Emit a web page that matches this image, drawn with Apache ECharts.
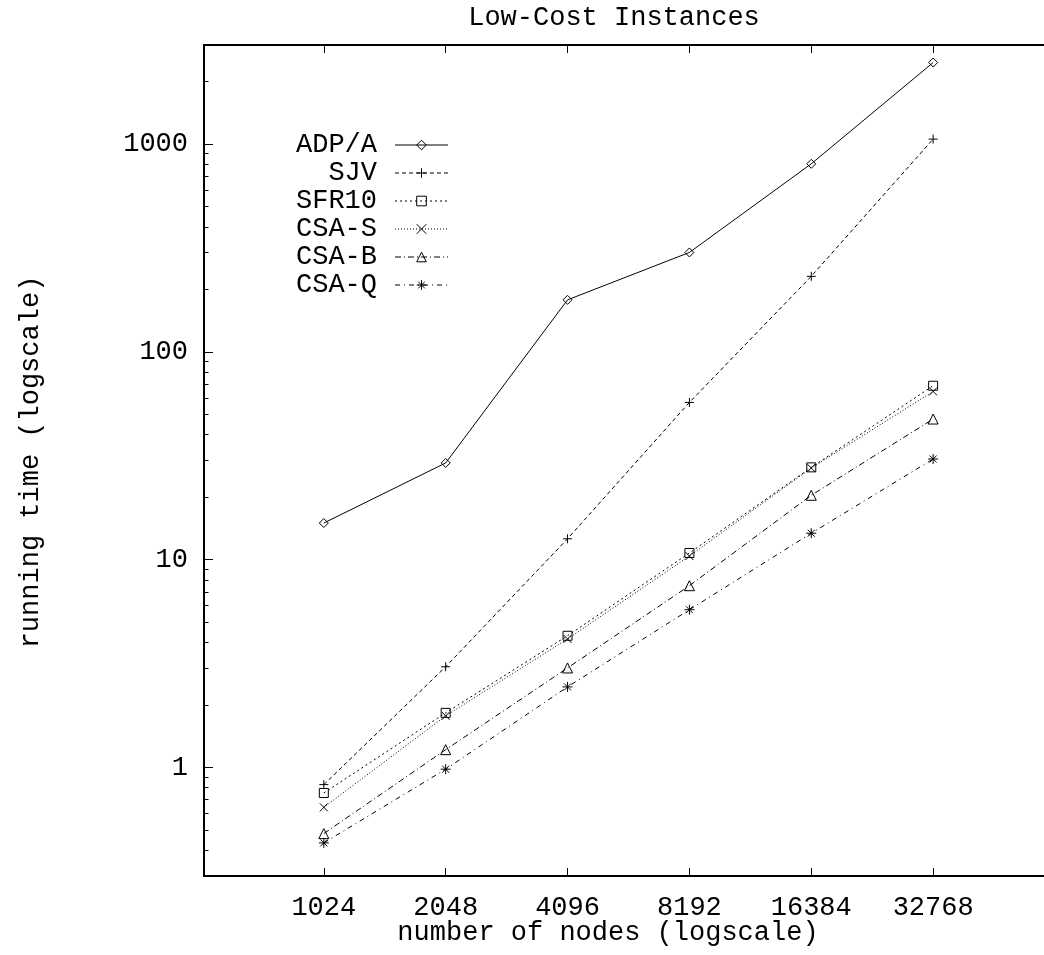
<!DOCTYPE html>
<html>
<head>
<meta charset="utf-8">
<script src="https://cdn.jsdelivr.net/npm/echarts@6/dist/echarts.min.js"></script>
<style>
  html, body { margin: 0; padding: 0; background: #fff; }
  #chart { width: 1044px; height: 955px; }
</style>
</head>
<body>
<div id="chart"></div>
<script>
// Problem size (number of nodes) and running times per algorithm
const nodes = [1024, 2048, 4096, 8192, 16384, 32768];
const adpA  = [15.0, 29.2, 178, 301, 804, 2470];
const sjv   = [0.826, 3.05, 12.6, 57.1, 231, 1057];
const sfr10 = [0.753, 1.83, 4.30, 10.76, 27.8, 68.7];
const csaS  = [0.642, 1.77, 4.15, 10.4, 27.6, 64.5];
const csaB  = [0.48, 1.217, 3.01, 7.49, 20.4, 47.5];
const csaQ  = [0.433, 0.98, 2.44, 5.74, 13.4, 30.5];

const seriesNames = ['ADP/A', 'SJV', 'SFR10', 'CSA-S', 'CSA-B', 'CSA-Q'];

// Tick values
const xTicks = [1024, 2048, 4096, 8192, 16384, 32768];
const yMajorTicks = [1, 10, 100, 1000];
const yMinorTicks = [0.4, 0.5, 0.6, 0.7, 0.8, 0.9,
  2, 3, 4, 5, 6, 7, 8, 9,
  20, 30, 40, 50, 60, 70, 80, 90,
  200, 300, 400, 500, 600, 700, 800, 900,
  2000];

const FONT = '"Liberation Mono", "DejaVu Sans Mono", monospace';
const FS = 27;

const symbols = {
  diamond: 'diamond',
  plus: 'path://M5,0 L5,10 M0,5 L10,5',
  square: 'rect',
  cross: 'path://M0,0 L10,10 M10,0 L0,10',
  triangle: 'triangle',
  star: 'path://M5,0 L5,10 M0,5 L10,5 M1.5,1.5 L8.5,8.5 M8.5,1.5 L1.5,8.5'
};

function makeSeries(name, values, symbol, size, dash) {
  return {
    name: name,
    type: 'line',
    data: nodes.map((n, i) => [n, values[i]]),
    symbol: symbol,
    symbolSize: size,
    showSymbol: true,
    animation: false,
    lineStyle: { color: '#000', width: 1, type: dash },
    itemStyle: { color: 'none', borderColor: '#000', borderWidth: 1 },
    emphasis: { disabled: true }
  };
}

const chart = echarts.init(document.getElementById('chart'), null, { renderer: 'canvas' });

const axisText = { fontFamily: FONT, fontSize: FS, color: '#000' };
const tickLine = { color: '#000', width: 1 };
const borderLine = { color: '#000', width: 2 };
const X_MIN = 518;
const X_MAX = 65536;

chart.setOption({
  backgroundColor: '#fff',
  animation: false,
  // the plot frame runs past the right edge of the canvas
  grid: { left: 204, top: 45, width: 851, height: 831, containLabel: false, outerBoundsMode: 'none' },
  xAxis: [
    {
      type: 'log', logBase: 2, min: X_MIN, max: X_MAX, position: 'bottom',
      axisLine: { show: true, onZero: false, lineStyle: borderLine },
      axisTick: { show: true, inside: true, length: 8, customValues: xTicks, lineStyle: tickLine },
      axisLabel: Object.assign({ margin: 18, customValues: xTicks, formatter: v => String(Math.round(v)) }, axisText),
      splitLine: { show: false }, minorTick: { show: false }
    },
    {
      type: 'log', logBase: 2, min: X_MIN, max: X_MAX, position: 'top', gridIndex: 0,
      axisLine: { show: true, onZero: false, lineStyle: borderLine },
      axisTick: { show: true, inside: true, length: 8, customValues: xTicks, lineStyle: tickLine },
      axisLabel: { show: false },
      splitLine: { show: false }
    }
  ],
  yAxis: [
    {
      type: 'log', logBase: 10, min: 0.3, max: 3000, position: 'left',
      axisLine: { show: true, onZero: false, lineStyle: borderLine },
      axisTick: { show: true, inside: true, length: 9, customValues: yMajorTicks, lineStyle: tickLine },
      axisLabel: Object.assign({ margin: 16, customValues: yMajorTicks, formatter: v => String(Math.round(v)) }, axisText),
      splitLine: { show: false }
    },
    {
      type: 'log', logBase: 10, min: 0.3, max: 3000, position: 'left', gridIndex: 0,
      axisLine: { show: false, onZero: false },
      axisTick: { show: true, inside: true, length: 4.5, customValues: yMinorTicks, lineStyle: tickLine },
      axisLabel: { show: false },
      splitLine: { show: false }
    }
  ],
  legend: {
    data: seriesNames,
    orient: 'vertical',
    align: 'right',
    left: 296,
    top: 131,
    padding: 0,
    itemGap: 0,
    itemWidth: 53,
    itemHeight: 12,
    selectedMode: false,
    lineStyle: { width: 1 },
    itemStyle: { color: 'none', borderColor: '#000', borderWidth: 1 },
    textStyle: { fontFamily: FONT, fontSize: FS, color: '#000', lineHeight: 28, padding: [0, 13, 0, 0] }
  },
  graphic: [
    {
      type: 'text', x: 614, y: 18,
      style: { text: 'Low-Cost Instances', font: FS + 'px ' + FONT, fill: '#000', align: 'center', verticalAlign: 'middle' }
    },
    {
      type: 'text', x: 608, y: 933,
      style: { text: 'number of nodes (logscale)', font: FS + 'px ' + FONT, fill: '#000', align: 'center', verticalAlign: 'middle' }
    },
    {
      type: 'text', x: 31, y: 462, rotation: Math.PI / 2,
      style: { text: 'running time (logscale)', font: FS + 'px ' + FONT, fill: '#000', align: 'center', verticalAlign: 'middle' }
    }
  ],
  series: [
    makeSeries('ADP/A', adpA, symbols.diamond, 9, 'solid'),
    makeSeries('SJV', sjv, symbols.plus, 9, [4, 3]),
    makeSeries('SFR10', sfr10, symbols.square, 9, [2, 3]),
    makeSeries('CSA-S', csaS, symbols.cross, 8, [1, 2]),
    makeSeries('CSA-B', csaB, symbols.triangle, 10, [6, 3, 1, 3]),
    makeSeries('CSA-Q', csaQ, symbols.star, 10, [5, 4, 1, 4])
  ]
});
</script>
</body>
</html>
